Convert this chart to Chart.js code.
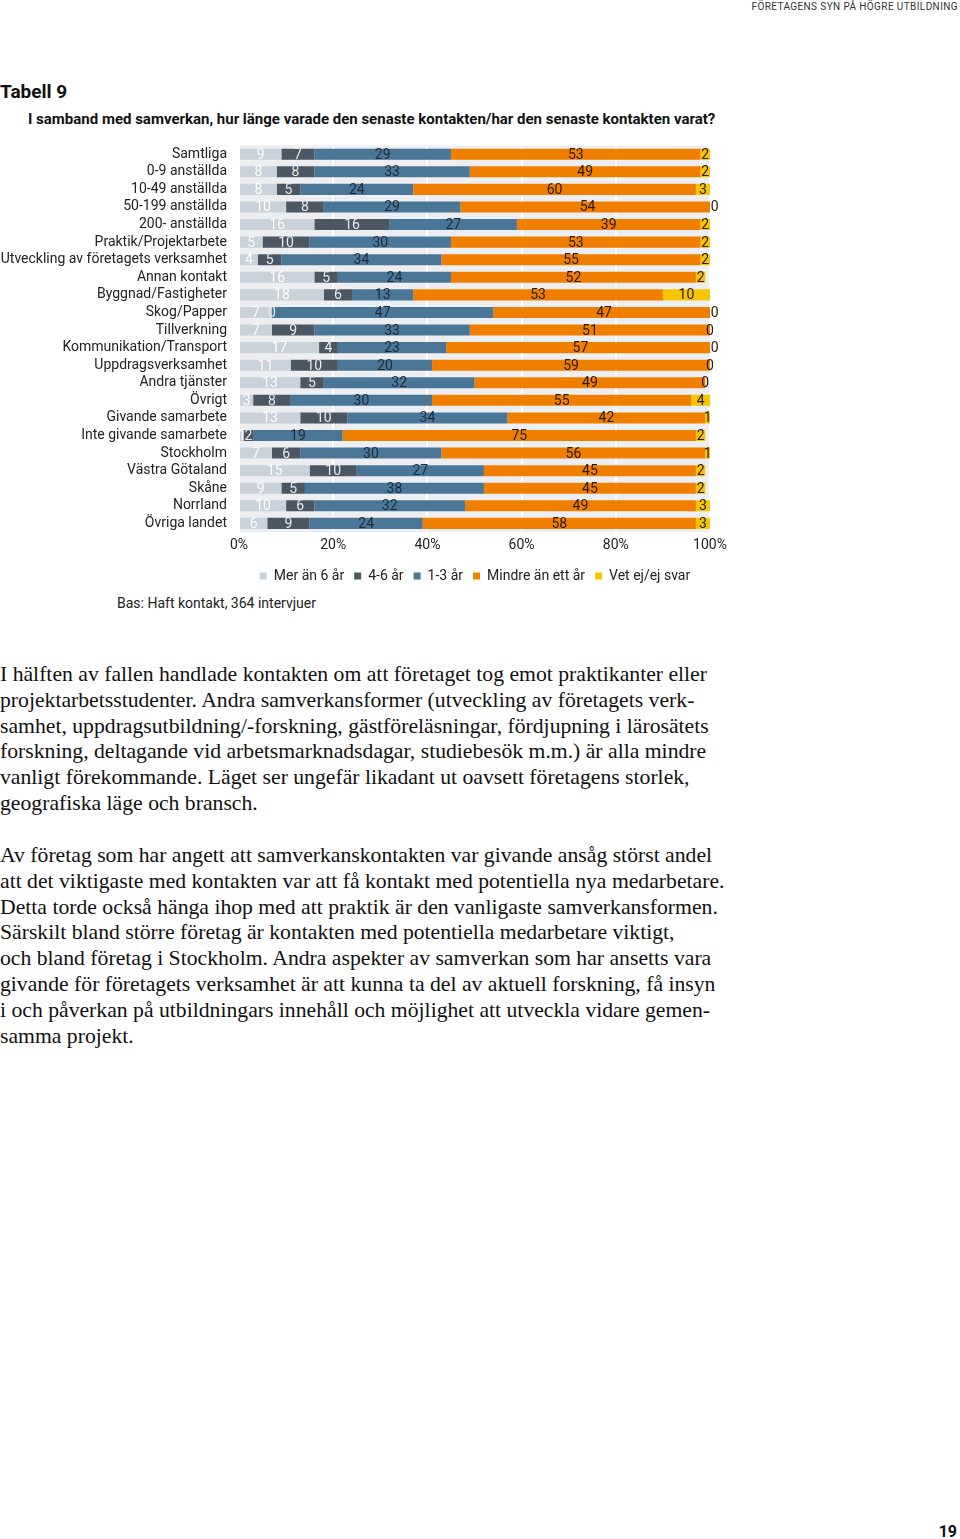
<!DOCTYPE html>
<html lang="sv">
<head>
<meta charset="utf-8">
<script src="https://cdn.jsdelivr.net/npm/chart.js@4/dist/chart.umd.min.js"></script>
<style>
  html, body { margin: 0; padding: 0; background: #fff; }
  body { width: 960px; height: 1539px; position: relative; overflow: hidden; font-family: Roboto, sans-serif; color: #222; }
  .header { position: absolute; top: 1px; right: 2px; font-size: 10px; letter-spacing: 0.4px; color: #333; }
  .title { position: absolute; left: 0; top: 80px; font-size: 19px; font-weight: bold; color: #111; }
  .subtitle { position: absolute; left: 28px; top: 110px; font-size: 15px; font-weight: bold; color: #111; }
  .chartbox { position: absolute; left: 0; top: 125px; width: 950px; height: 468px; }
  .bas { position: absolute; left: 117px; top: 595px; font-size: 14px; color: #222; }
  .body { position: absolute; left: 0; font-family: "Liberation Serif", serif; font-size: 21.7px; line-height: 25.8px; color: #111; }
  .pagenum { position: absolute; right: 3px; top: 1522px; font-size: 16px; font-weight: bold; color: #111; }
</style>
</head>
<body>
<div class="header">FÖRETAGENS SYN PÅ HÖGRE UTBILDNING</div>
<div class="title">Tabell 9</div>
<div class="subtitle">I samband med samverkan, hur länge varade den senaste kontakten/har den senaste kontakten varat?</div>
<div class="chartbox"><canvas id="chart"></canvas></div>
<div class="bas">Bas: Haft kontakt, 364 intervjuer</div>
<div class="body" style="top:662px">I hälften av fallen handlade kontakten om att företaget tog emot praktikanter eller<br>projektarbetsstudenter. Andra samverkansformer (utveckling av företagets verk-<br>samhet, uppdragsutbildning/-forskning, gästföreläsningar, fördjupning i lärosätets<br>forskning, deltagande vid arbetsmarknadsdagar, studiebesök m.m.) är alla mindre<br>vanligt förekommande. Läget ser ungefär likadant ut oavsett företagens storlek,<br>geografiska läge och bransch.</div>
<div class="body" style="top:843px">Av företag som har angett att samverkanskontakten var givande ansåg störst andel<br>att det viktigaste med kontakten var att få kontakt med potentiella nya medarbetare.<br>Detta torde också hänga ihop med att praktik är den vanligaste samverkansformen.<br>Särskilt bland större företag är kontakten med potentiella medarbetare viktigt,<br>och bland företag i Stockholm. Andra aspekter av samverkan som har ansetts vara<br>givande för företagets verksamhet är att kunna ta del av aktuell forskning, få insyn<br>i och påverkan på utbildningars innehåll och möjlighet att utveckla vidare gemen-<br>samma projekt.</div>
<div class="pagenum">19</div>

<script>
const categories = [
  'Samtliga', '0-9 anställda', '10-49 anställda', '50-199 anställda', '200- anställda',
  'Praktik/Projektarbete', 'Utveckling av företagets verksamhet', 'Annan kontakt',
  'Byggnad/Fastigheter', 'Skog/Papper', 'Tillverkning', 'Kommunikation/Transport',
  'Uppdragsverksamhet', 'Andra tjänster', 'Övrigt', 'Givande samarbete',
  'Inte givande samarbete', 'Stockholm', 'Västra Götaland', 'Skåne', 'Norrland', 'Övriga landet'
];

const merAn6 =   [9, 8, 8, 10, 16, 5, 4, 16, 18, 7, 7, 17, 11, 13, 3, 13, 1, 7, 15, 9, 10, 6];
const ar4till6 = [7, 8, 5, 8, 16, 10, 5, 5, 6, 0, 9, 4, 10, 5, 8, 10, 2, 6, 10, 5, 6, 9];
const ar1till3 = [29, 33, 24, 29, 27, 30, 34, 24, 13, 47, 33, 23, 20, 32, 30, 34, 19, 30, 27, 38, 32, 24];
const mindre =   [53, 49, 60, 54, 39, 53, 55, 52, 53, 47, 51, 57, 59, 49, 55, 42, 75, 56, 45, 45, 49, 58];
const vetEj =    [2, 2, 3, 0, 2, 2, 2, 2, 10, 0, 0, 0, 0, 0, 4, 1, 2, 1, 2, 2, 3, 3];

const xTicks = [0, 20, 40, 60, 80, 100];

const seriesNames = ['Mer än 6 år', '4-6 år', '1-3 år', 'Mindre än ett år', 'Vet ej/ej svar'];
const seriesColors = ['#c9d1da', '#4b5763', '#4a7698', '#f07f00', '#f6c500'];
const labelColors = ['#ffffff', '#e8ebee', '#1c2b3b', '#2a1a0a', '#2a1a0a'];
const seriesData = [merAn6, ar4till6, ar1till3, mindre, vetEj];

// bakgrund i ritytan
const plotBg = {
  id: 'plotBg',
  beforeDraw(chart) {
    const { ctx, chartArea: a } = chart;
    ctx.save();
    ctx.fillStyle = '#eceef2';
    ctx.fillRect(a.left, a.top, a.right - a.left, a.bottom - a.top);
    ctx.restore();
  }
};

// värden mitt i varje segment
const segLabels = {
  id: 'segLabels',
  afterDatasetsDraw(chart) {
    const ctx = chart.ctx;
    ctx.save();
    ctx.font = '14px Roboto, sans-serif';
    ctx.textAlign = 'center';
    ctx.textBaseline = 'middle';
    chart.data.datasets.forEach((ds, i) => {
      const meta = chart.getDatasetMeta(i);
      ctx.fillStyle = labelColors[i];
      meta.data.forEach((bar, j) => {
        const cx = (bar.x + bar.base) / 2;
        ctx.fillText(String(ds.data[j]), cx, bar.y + 1);
      });
    });
    ctx.restore();
  }
};

new Chart(document.getElementById('chart'), {
  type: 'bar',
  data: {
    labels: categories,
    datasets: seriesNames.map((name, i) => ({
      label: name,
      data: seriesData[i],
      backgroundColor: seriesColors[i],
      borderWidth: 0,
      barPercentage: 0.63,
      categoryPercentage: 1,
    })),
  },
  options: {
    indexAxis: 'y',
    responsive: true,
    maintainAspectRatio: false,
    animation: false,
    layout: { padding: { top: 0, left: 0, right: 0, bottom: 0 } },
    plugins: {
      legend: {
        position: 'bottom',
        labels: {
          boxWidth: 7,
          boxHeight: 7,
          padding: 10,
          color: '#222',
          font: { family: 'Roboto, sans-serif', size: 14 },
        },
      },
      tooltip: { enabled: false },
    },
    scales: {
      x: {
        stacked: true,
        min: 0,
        max: 100,
        afterBuildTicks(scale) {
          scale.ticks = xTicks.map(v => ({ value: v }));
        },
        ticks: {
          color: '#222',
          padding: 5,
          font: { family: 'Roboto, sans-serif', size: 14 },
          callback: v => v + '%',
        },
        grid: { color: '#ffffff', lineWidth: 2, drawTicks: false },
        border: { display: false },
      },
      y: {
        stacked: true,
        afterFit(scale) { scale.width = 239; },
        ticks: {
          autoSkip: false,
          color: '#222',
          padding: 12,
          font: { family: 'Roboto, sans-serif', size: 14 },
        },
        grid: { display: false, drawTicks: false },
        border: { display: false },
      },
      y2: {
        type: 'category',
        labels: categories,
        position: 'right',
        afterFit(scale) { scale.width = 240; },
        ticks: { display: false },
        grid: { display: false, drawTicks: false },
        border: { display: false },
      },
    },
  },
  plugins: [plotBg, segLabels],
});
</script>
</body>
</html>
